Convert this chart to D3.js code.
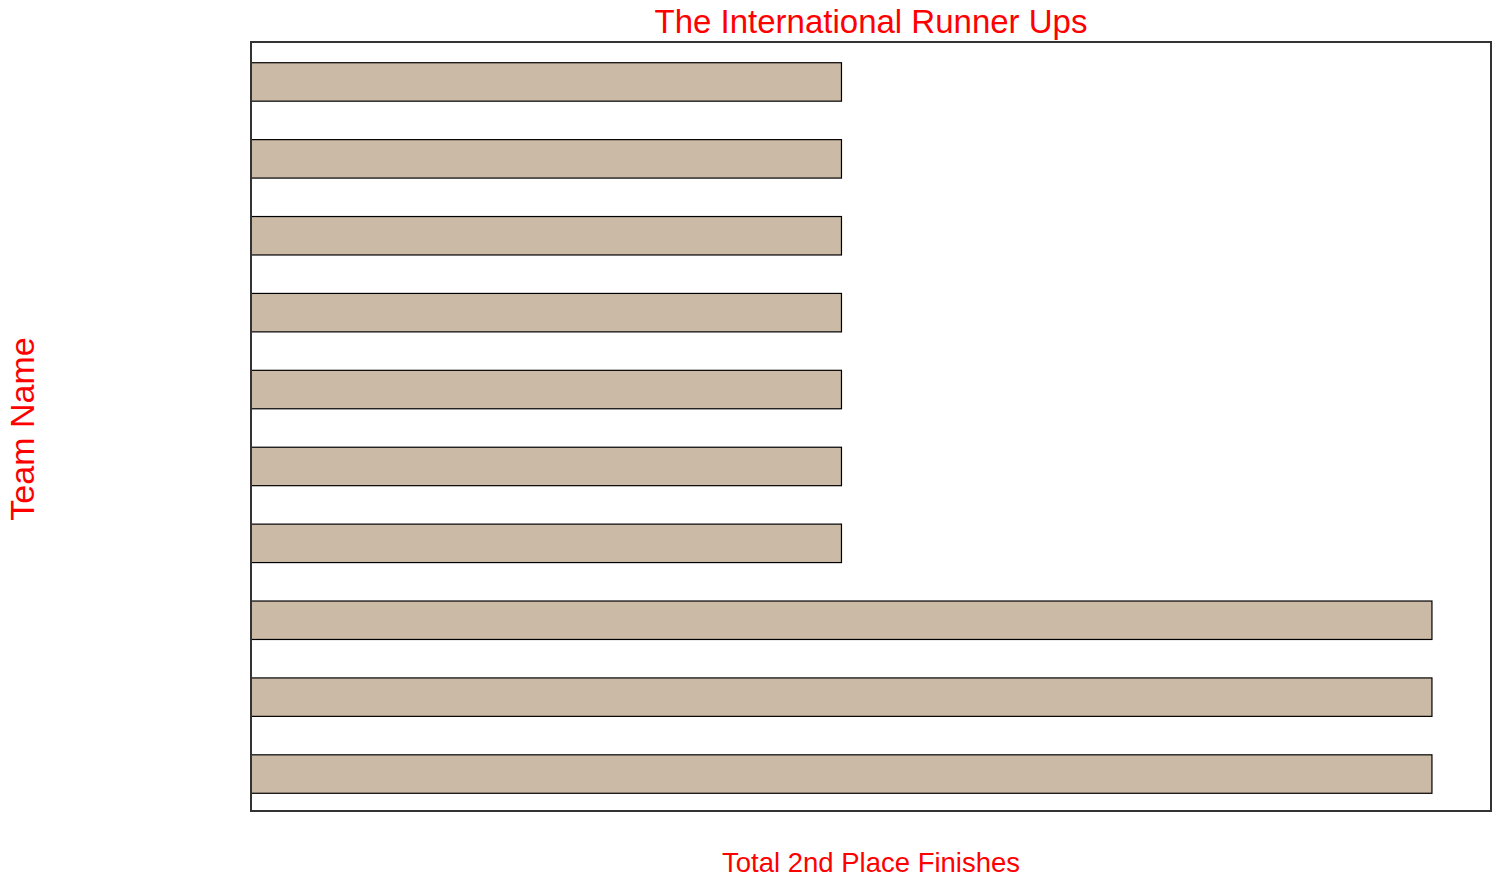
<!DOCTYPE html>
<html>
<head>
<meta charset="utf-8">
<script src="https://cdn.jsdelivr.net/npm/d3@7"></script>
<style>
  html, body { margin: 0; padding: 0; background: #fff; }
  svg { display: block; }
</style>
</head>
<body>
<div id="chart"></div>
<script>
// Data (bottom-to-top order as drawn)
const teams = ["Natus Vincere", "Newbee", "PSG.LGD", "EHOME", "CDEC Gaming", "Digital Chaos", "Team Liquid", "Team Secret", "Gaimin Gladiators", "Team Spirit"];
const runnerUps = [2, 2, 2, 1, 1, 1, 1, 1, 1, 1];
const titleText = "The International Runner Ups";
const xLabelText = "Total 2nd Place Finishes";
const yLabelText = "Team Name";

const W = 1501, H = 887;
const margin = { left: 251, right: 10, top: 42, bottom: 76 };

const svg = d3.select("#chart").append("svg").attr("width", W).attr("height", H);

const x = d3.scaleLinear()
  .domain([0, d3.max(runnerUps) * 1.05])
  .range([margin.left, W - margin.right]);

const y = d3.scaleBand()
  .domain(d3.range(teams.length).reverse())
  .range([margin.top + 1.5, H - margin.bottom + 1.5])
  .paddingInner(0.5)
  .paddingOuter(0.25);

svg.append("g").selectAll("rect")
  .data(runnerUps)
  .join("rect")
  .attr("x", x(0))
  .attr("y", (d, i) => y(i))
  .attr("width", d => x(d) - x(0))
  .attr("height", y.bandwidth())
  .attr("fill", "#cbbaa5")
  .attr("stroke", "#000")
  .attr("stroke-width", 1.2);

// frame
svg.append("rect")
  .attr("x", margin.left)
  .attr("y", margin.top)
  .attr("width", W - margin.right - margin.left)
  .attr("height", H - margin.bottom - margin.top)
  .attr("fill", "none")
  .attr("stroke", "#333")
  .attr("stroke-width", 2);

const font = "Liberation Sans, Arial, sans-serif";

svg.append("text")
  .attr("x", (margin.left + W - margin.right) / 2)
  .attr("y", 33)
  .attr("text-anchor", "middle")
  .attr("font-family", font)
  .attr("font-size", 33)
  .attr("fill", "#ff0000")
  .text(titleText);

svg.append("text")
  .attr("x", (margin.left + W - margin.right) / 2)
  .attr("y", 872)
  .attr("text-anchor", "middle")
  .attr("font-family", font)
  .attr("font-size", 27.5)
  .attr("fill", "#ff0000")
  .text(xLabelText);

svg.append("text")
  .attr("transform", `translate(34, 429) rotate(-90)`)
  .attr("text-anchor", "middle")
  .attr("font-family", font)
  .attr("font-size", 34)
  .attr("fill", "#ff0000")
  .text(yLabelText);
</script>
</body>
</html>
